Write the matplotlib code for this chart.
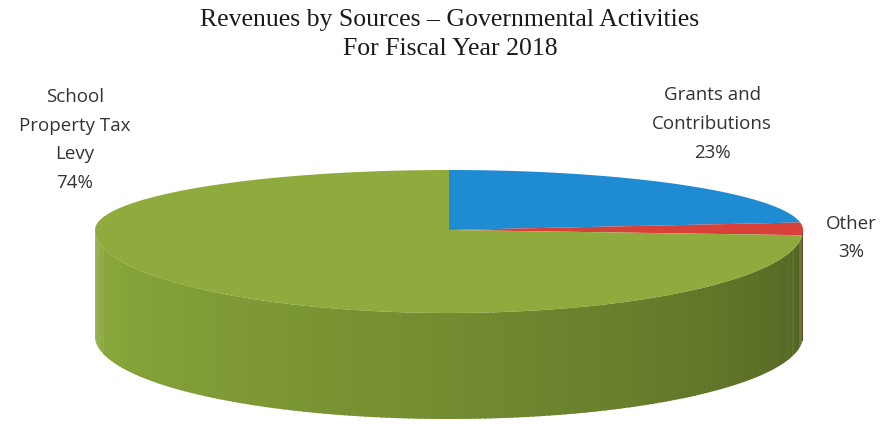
import numpy as np
import matplotlib.pyplot as plt
from matplotlib.patches import Polygon
from matplotlib.colors import to_rgb

# data
categories = ['Grants and\nContributions', 'Other', 'School\nProperty Tax\nLevy']
shares = [23, 3, 74]
colors = ['#1f8bd2', '#d8403a', '#8fab3d']

# layout of the tilted pie (pixel coords)
cx, cy = 449, 230
rx = 354
ry_back, ry_front = 60, 83
depth = 106


def top_pt(theta):
    # theta in degrees, 90 = back/top, perspective: far half flatter
    t = np.radians(theta)
    s = np.sin(t)
    ry = np.where(s > 0, ry_back, ry_front)
    return cx + rx * np.cos(t), cy - ry * s


def shade(c, f):
    r, g, b = to_rgb(c)
    return (r * f, g * f, b * f)


fig = plt.figure(figsize=(8.91, 4.24), dpi=100)
ax = fig.add_axes([0, 0, 1, 1])
ax.set_xlim(0, 891)
ax.set_ylim(424, 0)
ax.axis('off')

# slice angles, clockwise from the top
edges = 90 - 360 * np.cumsum([0] + shares) / sum(shares)

# side wall (front half only), shaded darker toward the right
side_c = '#8aa83a'
for i in range(len(shares)):
    a0, a1 = edges[i], edges[i + 1]
    lo, hi = max(min(a0, a1), -180), min(max(a0, a1), 0)
    # front half is theta in [-180, 0]
    if lo >= hi:
        continue
    th = np.linspace(lo, hi, 200)
    for k in range(len(th) - 1):
        t = np.array([th[k], th[k + 1] + 0.3])
        x, y = top_pt(t)
        frac = (th[k] + 180) / 180.0
        f = 1.0 - 0.42 * frac ** 1.3
        col = shade(side_c if i == 2 else colors[i], f)
        poly = [(x[0], y[0]), (x[1], y[1]), (x[1], y[1] + depth), (x[0], y[0] + depth)]
        ax.add_patch(Polygon(poly, closed=True, facecolor=col, edgecolor='none'))

# top faces
for i in range(len(shares)):
    th = np.linspace(edges[i], edges[i + 1], 300)
    x, y = top_pt(th)
    pts = [(cx, cy)] + list(zip(x, y))
    ax.add_patch(Polygon(pts, closed=True, facecolor=colors[i], edgecolor='none'))

# title
ax.text(450, 20, 'Revenues by Sources \u2013 Governmental Activities', ha='center', va='center',
        family='Liberation Serif', fontsize=18.5, color='#1a1a1a')
ax.text(450, 49, 'For Fiscal Year 2018', ha='center', va='center',
        family='Liberation Serif', fontsize=18.5, color='#1a1a1a')

# labels
lab_pos = [(712, 124), (851, 238), (75, 140)]
for name, v, (lx, ly) in zip(categories, shares, lab_pos):
    ax.text(lx, ly, f'{name}\n{v}%', ha='center', va='center', family='Open Sans',
            fontsize=13.5, color='#333333', linespacing=1.75)

fig.savefig('out.png', dpi=100)
